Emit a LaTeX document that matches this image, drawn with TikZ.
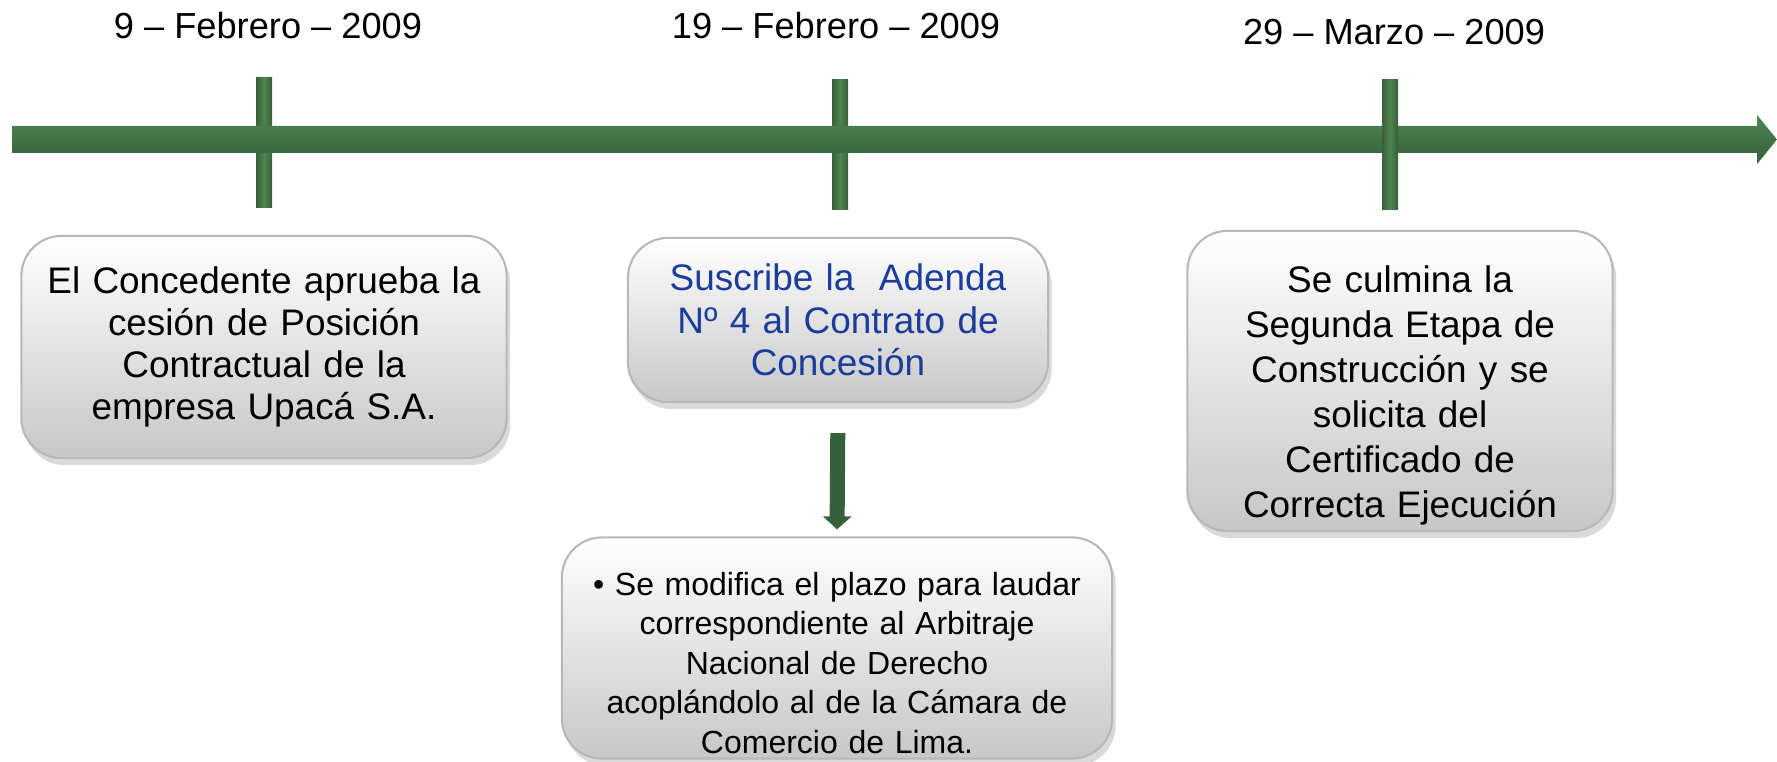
\documentclass[tikz,border=0pt]{standalone}
\usepackage{fontspec}
\setmainfont{Liberation Sans}
\usetikzlibrary{shadows,arrows.meta}
\definecolor{verdeclaro}{HTML}{7DB07E}
\definecolor{verde}{HTML}{4F8552}
\definecolor{verdeoscuro}{HTML}{36603A}
\definecolor{azul}{HTML}{1A3C9A}
\tikzset{
  evento/.style={rounded corners=0.4cm, draw=black!28, line width=0.6pt, top color=white, bottom color=black!22,
    drop shadow={opacity=0.3, shadow xshift=1pt, shadow yshift=-2pt}, align=center, inner sep=0pt},
  fecha/.style={font=\fontsize{10.3}{12}\selectfont},
  marca/.style={left color=verdeoscuro, right color=verdeoscuro, middle color=verde},
  flecha/.style={draw=verdeoscuro, line width=0.15cm, -{Triangle[width=0.28cm,length=0.13cm]}}
}
\begin{document}
\begin{tikzpicture}[x=0.01cm,y=-0.01cm]
\useasboundingbox (0,0) rectangle (1777,762);

\shade[marca] (256,78) rectangle (272,208);
\shade[marca] (832,80) rectangle (848,210);
\shade[top color=verde, middle color=verdeclaro, bottom color=verdeoscuro]
  (12,126) -- (1757,126) -- (1757,115) -- (1777,139.5) -- (1757,164) -- (1757,153) -- (12,153) -- cycle;
\shade[marca] (1382,80) rectangle (1398,210);

\node[fecha] (fecha1) at (268,26) {9 – Febrero – 2009};
\node[fecha] (fecha2) at (836,26) {19 – Febrero – 2009};
\node[fecha] (fecha3) at (1394,32) {29 – Marzo – 2009};

\node[evento, minimum width=4.85cm, minimum height=2.22cm, text width=4.7cm,
  font=\fontsize{10.5}{12}\selectfont] (concedente) at (264,347)
  {El Concedente aprueba la\\ cesión de Posición\\ Contractual de la\\ empresa Upacá S.A.};
\node[evento, minimum width=4.2cm, minimum height=1.64cm, text width=4.1cm, text=azul,
  font=\fontsize{10.5}{12}\selectfont] (adenda) at (838,320)
  {Suscribe la \ Adenda\\ Nº 4 al Contrato de\\ Concesión};
\node[evento, minimum width=4.25cm, minimum height=3cm, text width=4.1cm,
  font=\fontsize{10.5}{12.8}\selectfont] (culmina) at (1400,381)
  {\rule{0pt}{0.55cm}Se culmina la\\ Segunda Etapa de\\ Construcción y se\\ solicita del\\ Certificado de\\ Correcta Ejecución};
\node[evento, minimum width=5.5cm, minimum height=2.21cm, text width=5.3cm,
  font=\fontsize{9.1}{11.2}\selectfont] (modifica) at (837,648)
  {\rule{0pt}{0.53cm}• Se modifica el plazo para laudar\\ correspondiente al Arbitraje\\ Nacional de Derecho\\ acoplándolo al de la Cámara de\\ Comercio de Lima.};

\draw[flecha, shorten <=0.3cm, shorten >=0.07cm] (adenda.south) -- (modifica.north);

\end{tikzpicture}
\end{document}
